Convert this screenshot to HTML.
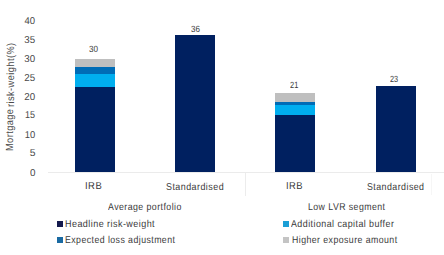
<!DOCTYPE html>
<html><head><meta charset="utf-8">
<style>
html,body{margin:0;padding:0;background:#fff;}
body{width:444px;height:255px;position:relative;overflow:hidden;font-family:"Liberation Sans",sans-serif;color:#3a3a3a;}
.t{position:absolute;white-space:nowrap;line-height:1;transform-origin:0 0;text-rendering:geometricPrecision;}
.b{position:absolute;}
.nv{background:#002060;}
.cy{background:#00aeef;}
.mb{background:#006cb6;}
.gy{background:#bfbfbf;}
.sq{position:absolute;width:6px;height:6px;}
</style></head><body>
<div class="b" style="left:48px;top:172px;width:396px;height:1px;background:#ebebeb"></div>
<div class="b" style="left:245px;top:173px;width:1px;height:23px;background:#ececec"></div>
<div class="b" style="left:431px;top:174px;width:1px;height:21px;background:#f6f6f6"></div>
<div class="b gy" style="left:75px;top:59px;width:40px;height:8px"></div>
<div class="b mb" style="left:75px;top:67px;width:40px;height:7px"></div>
<div class="b cy" style="left:75px;top:74px;width:40px;height:13px"></div>
<div class="b nv" style="left:75px;top:87px;width:40px;height:85px"></div>
<div class="b nv" style="left:175px;top:35px;width:40px;height:137px"></div>
<div class="b gy" style="left:275px;top:93px;width:40px;height:9px"></div>
<div class="b mb" style="left:275px;top:102px;width:40px;height:3px"></div>
<div class="b cy" style="left:275px;top:105px;width:40px;height:10px"></div>
<div class="b nv" style="left:275px;top:115px;width:40px;height:57px"></div>
<div class="b nv" style="left:376px;top:86px;width:40px;height:86px"></div>
<div class="sq" style="left:57px;top:221px;background:#141a4e"></div>
<div class="sq" style="left:57px;top:237px;background:#1a6aa2"></div>
<div class="sq" style="left:283px;top:221px;background:#1c9fd6"></div>
<div class="sq" style="left:283px;top:237px;background:#c4c4c4"></div>
<div class="t" id="y40" style="right:408.50px;top:17.00px;font-size:10px;transform-origin:100% 0;color:#484848;transform:scaleX(0.9500)">40</div>
<div class="t" id="y35" style="right:408.50px;top:36.00px;font-size:10px;transform-origin:100% 0;color:#484848;transform:scaleX(0.9744)">35</div>
<div class="t" id="y30" style="right:408.50px;top:55.00px;font-size:10px;transform-origin:100% 0;color:#484848;transform:scaleX(0.9744)">30</div>
<div class="t" id="y25" style="right:408.50px;top:74.00px;font-size:10px;transform-origin:100% 0;color:#484848;transform:scaleX(0.9744)">25</div>
<div class="t" id="y20" style="right:408.50px;top:93.00px;font-size:10px;transform-origin:100% 0;color:#484848;transform:scaleX(0.9744)">20</div>
<div class="t" id="y15" style="right:408.50px;top:111.25px;font-size:10px;transform-origin:100% 0;color:#484848;transform:scaleX(0.9000)">15</div>
<div class="t" id="y10" style="right:408.50px;top:131.00px;font-size:10px;transform-origin:100% 0;color:#484848;transform:scaleX(0.9401)">10</div>
<div class="t" id="y5" style="right:408.50px;top:149.25px;font-size:10px;transform-origin:100% 0;color:#484848;transform:scaleX(1.0409)">5</div>
<div class="t" id="y0" style="right:408.50px;top:168.50px;font-size:10px;transform-origin:100% 0;color:#484848;transform:scaleX(0.9830)">0</div>
<div class="t" id="v30" style="left:88.55px;top:44.85px;font-size:9px;letter-spacing:0px;transform:scaleX(0.9028)">30</div>
<div class="t" id="v36" style="left:191.05px;top:24.65px;font-size:9px;letter-spacing:0px;transform:scaleX(0.8904)">36</div>
<div class="t" id="v21" style="left:290.20px;top:80.65px;font-size:9px;letter-spacing:0px;transform:scaleX(0.8259)">21</div>
<div class="t" id="v23" style="left:389.70px;top:74.85px;font-size:9px;letter-spacing:0px;transform:scaleX(0.8152)">23</div>
<div class="t" id="IRB1" style="left:84.95px;top:182.05px;font-size:10px;letter-spacing:0.5px;transform:scaleX(0.9464)">IRB</div>
<div class="t" id="Std1" style="left:166.10px;top:183.10px;font-size:10px;letter-spacing:0.5px;transform:scaleX(0.8941)">Standardised</div>
<div class="t" id="IRB2" style="left:286.00px;top:182.05px;font-size:10px;letter-spacing:0.5px;transform:scaleX(0.9409)">IRB</div>
<div class="t" id="Std2" style="left:367.30px;top:183.10px;font-size:10px;letter-spacing:0.5px;transform:scaleX(0.8852)">Standardised</div>
<div class="t" id="Avg" style="left:107.85px;top:202.70px;font-size:10px;letter-spacing:0.5px;transform:scaleX(0.8789)">Average portfolio</div>
<div class="t" id="Low" style="left:307.95px;top:202.95px;font-size:10px;letter-spacing:0.5px;transform:scaleX(0.8747)">Low LVR segment</div>
<div class="t" id="L1" style="left:64.75px;top:220.20px;font-size:10px;letter-spacing:0.5px;transform:scaleX(0.9002)">Headline risk-weight</div>
<div class="t" id="L2" style="left:64.75px;top:236.20px;font-size:10px;letter-spacing:0.5px;transform:scaleX(0.8763)">Expected loss adjustment</div>
<div class="t" id="L3" style="left:291.05px;top:220.20px;font-size:10px;letter-spacing:0.5px;transform:scaleX(0.8886)">Additional capital buffer</div>
<div class="t" id="L4" style="left:291.55px;top:236.20px;font-size:10px;letter-spacing:0.5px;transform:scaleX(0.8757)">Higher exposure amount</div>
<div class="t" id="ytitle1" style="left:6.00px;top:151.10px;font-size:10.3px;letter-spacing:0.5px;transform-origin:0 0;color:#4a4a4a;transform:rotate(-90deg) scaleX(0.8926)">Mortgage</div>
<div class="t" id="ytitle2" style="left:6.50px;top:107.20px;font-size:10.3px;letter-spacing:0.5px;transform-origin:0 0;color:#4a4a4a;transform:rotate(-90deg) scaleX(0.8940)">risk-weight(%)</div>
</body></html>
